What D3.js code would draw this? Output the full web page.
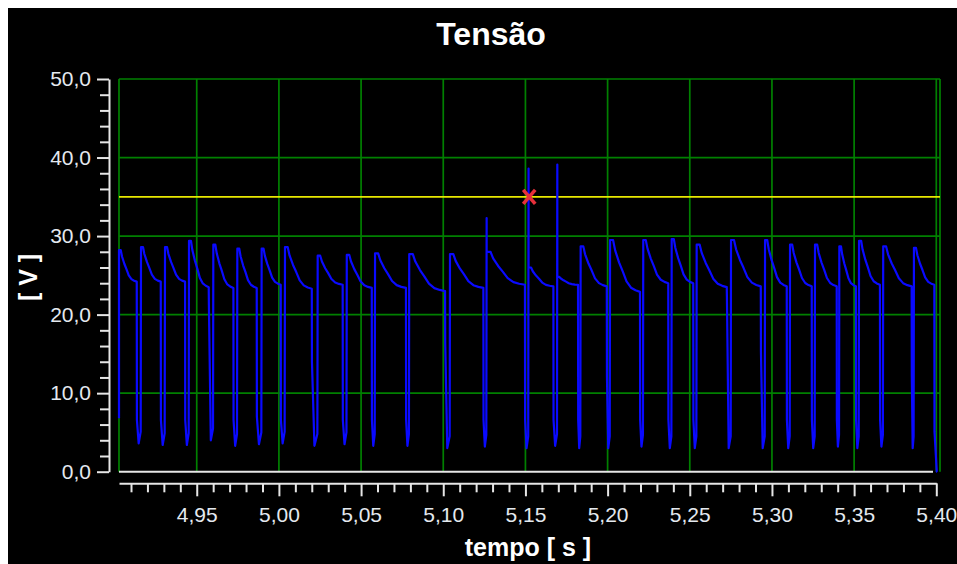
<!DOCTYPE html>
<html>
<head>
<meta charset="utf-8">
<script src="https://cdn.jsdelivr.net/npm/d3@7"></script>
<style>
  html, body { margin: 0; padding: 0; background: #fff; }
  svg { display: block; }
</style>
</head>
<body>
<div id="vis"></div>
<script>
// one entry per pulse
const riseTimes = [4.9027, 4.9161, 4.9307, 4.9453, 4.9601, 4.9747, 4.9895, 5.0037,
  5.0236, 5.0413, 5.0585, 5.0793, 5.1041, 5.1264, 5.1519, 5.1694, 5.1836, 5.2015,
  5.2217, 5.2390, 5.2542, 5.2751, 5.2958, 5.3110, 5.3262, 5.3410, 5.3530, 5.3677, 5.3864];
const peakVolts = [28.2, 28.6, 28.6, 29.4, 28.9, 28.4, 28.4, 28.6,
  27.5, 27.6, 27.8, 27.7, 27.7, 28.0, 26.0, 24.8, 28.7, 29.5,
  29.5, 29.6, 28.9, 29.5, 29.5, 28.9, 28.9, 28.7, 29.4, 28.7, 28.5];
const spikeVolts = [null, null, null, null, null, null, null, null,
  null, null, null, null, null, 32.3, 38.6, 39.1, null, null,
  null, null, null, null, null, null, null, null, null, null, null];
const dropTimes = [4.9135, 4.9281, 4.9429, 4.9573, 4.9723, 4.9865, 5.0011, 5.0200,
  5.0388, 5.0565, 5.0773, 5.1011, 5.1244, 5.1497, 5.1670, 5.1820, 5.1995, 5.2197,
  5.2369, 5.2521, 5.2725, 5.2932, 5.3090, 5.3242, 5.3394, 5.3511, 5.3657, 5.3850, 5.3988];
const plateauVolts = [24.2, 24.2, 24.2, 23.5, 23.4, 23.4, 23.8, 23.3,
  23.8, 23.4, 23.4, 23.0, 23.4, 23.8, 23.6, 23.8, 23.6, 22.9,
  24.0, 24.0, 23.5, 23.6, 23.6, 23.6, 23.6, 23.6, 23.8, 23.6, 23.8];
const kneeVolts = [6.6, 6.6, 6.6, 21.2, 6.6, 7.0, 6.6, 14.0,
  6.6, 6.6, 6.6, 16.4, 6.6, 6.6, 6.6, 6.6, 12.1, 6.6,
  6.6, 6.6, 22.3, 15.3, 6.6, 6.6, 6.6, 6.6, 6.6, 12.1, 5.1];
const troughVolts = [3.6, 3.4, 3.4, 4.0, 3.3, 3.5, 3.6, 3.3,
  3.5, 3.3, 3.3, 3.0, 3.2, 3.0, 3.3, 3.0, 3.0, 3.2,
  3.0, 3.0, 3.0, 3.0, 3.0, 3.0, 3.2, 3.0, 3.2, 3.0];
// fall from peak to plateau: [share of pulse length, share of height]
const decayShape = [[0, 1], [0.1, 1], [0.17, 0.8], [0.3, 0.57], [0.42, 0.4],
  [0.55, 0.2], [0.7, 0.08], [0.85, 0.03], [1, 0]];
const startVolt = 6.8;
const endVolt = 0;
const endTime = 5.4005;

const limitVolt = 35.0;
const markTime = 5.1523;
const markVolt = 35.0;

const timeDomain = [4.9027, 5.40];
const voltDomain = [0, 50];
const xTicks = d3.range(491, 541).map(d => d / 100);
const yTicks = d3.range(0, 51, 2);

const title = 'Tensão';
const xTitle = 'tempo [ s ]';
const yTitle = '[ V ]';


const width = 957;
const height = 564;
const plot = {left: 119, right: 936.3, top: 79, bottom: 471.7, border: 940};

const ptBR = d3.formatLocale({decimal: ',', thousands: '.', grouping: [3], currency: ['R$', '']});
const fmtY = ptBR.format('.1f');
const fmtX = ptBR.format('.2f');

const x = d3.scaleLinear()
    .domain(timeDomain)
    .range([plot.left, plot.right]);

const y = d3.scaleLinear()
    .domain(voltDomain)
    .range([plot.bottom, plot.top]);

const svg = d3.select('#vis').append('svg')
    .attr('width', width)
    .attr('height', height);

svg.append('rect')
    .attr('x', 8)
    .attr('y', 8)
    .attr('width', width - 8)
    .attr('height', height - 8)
    .attr('fill', '#000');

const font = "'Liberation Sans', Arial, sans-serif";
const labelColor = '#e4e9ef';

// grid
const grid = svg.append('g')
    .attr('stroke', '#008000')
    .attr('stroke-width', 1.7);

grid.selectAll('.vgrid')
  .data(xTicks.filter(isMajorX).concat([timeDomain[0]]))
  .join('line')
    .attr('class', 'vgrid')
    .attr('x1', d => x(d))
    .attr('x2', d => x(d))
    .attr('y1', y(voltDomain[1]))
    .attr('y2', y(0));

grid.selectAll('.hgrid')
  .data(yTicks.filter(d => d % 10 === 0 && d > 0))
  .join('line')
    .attr('class', 'hgrid')
    .attr('x1', plot.left)
    .attr('x2', plot.border)
    .attr('y1', d => y(d))
    .attr('y2', d => y(d));

grid.append('line')
    .attr('x1', plot.border)
    .attr('x2', plot.border)
    .attr('y1', y(voltDomain[1]))
    .attr('y2', y(0));

// limit line
svg.append('line')
    .attr('x1', plot.left)
    .attr('x2', plot.border)
    .attr('y1', y(limitVolt))
    .attr('y2', y(limitVolt))
    .attr('stroke', '#e8e800')
    .attr('stroke-width', 1.7);

// trace
const points = [[timeDomain[0], startVolt]];
riseTimes.forEach((tr, i) => {
  const td = dropTimes[i];
  if (spikeVolts[i] !== null) points.push([tr, spikeVolts[i]]);
  decayShape.forEach(([f, s]) => {
    points.push([tr + f * (td - tr), plateauVolts[i] + s * (peakVolts[i] - plateauVolts[i])]);
  });
  points.push([td + 0.0001, kneeVolts[i]]);
  if (i < riseTimes.length - 1) {
    const next = riseTimes[i + 1];
    points.push([td + 0.45 * (next - td), troughVolts[i]]);
    points.push([next - 0.0002, troughVolts[i] + 1.5]);
  }
});
points.push([endTime - 0.0002, endVolt]);
points.push([endTime, endVolt]);

const line = d3.line()
    .x(d => x(d[0]))
    .y(d => y(d[1]));

svg.append('path')
    .datum(points)
    .attr('d', line)
    .attr('fill', 'none')
    .attr('stroke', '#0a0aff')
    .attr('stroke-width', 2.2)
    .attr('stroke-linejoin', 'round');

// baseline of the plot
svg.append('line')
    .attr('x1', plot.left)
    .attr('x2', x(5.398))
    .attr('y1', y(0))
    .attr('y2', y(0))
    .attr('stroke', '#e6e6e6')
    .attr('stroke-width', 2);

// marker
const mark = svg.append('g')
    .attr('stroke', '#e8303a')
    .attr('stroke-width', 3.5);

[[-1, -1, 1, 1], [-1, 1, 1, -1]].forEach(([a, b, c, d]) => {
  mark.append('line')
      .attr('x1', x(markTime) + a * 6)
      .attr('y1', y(markVolt) + b * 7)
      .attr('x2', x(markTime) + c * 6)
      .attr('y2', y(markVolt) + d * 7);
});

// axes
const yAxis = d3.axisLeft(y)
    .tickValues(yTicks)
    .tickSizeInner(12)
    .tickSizeOuter(0)
    .tickPadding(6)
    .tickFormat(d => d % 10 === 0 ? fmtY(d) : '');

svg.append('g')
    .attr('transform', 'translate(109,0)')
    .call(yAxis)
    .call(g => styleAxis(g))
    .call(g => g.selectAll('.tick line')
        .attr('x2', d => d % 10 === 0 ? -12 : -9));

const xAxis = d3.axisBottom(x)
    .tickValues(xTicks)
    .tickSizeInner(13)
    .tickSizeOuter(0)
    .tickPadding(11)
    .tickFormat(d => isMajorX(d) ? fmtX(d) : '');

svg.append('g')
    .attr('transform', 'translate(0,483.3)')
    .call(xAxis)
    .call(g => styleAxis(g))
    .call(g => g.selectAll('.tick line')
        .attr('y2', d => isMajorX(d) ? 13 : 9));

// titles
svg.append('text')
    .attr('x', 491)
    .attr('y', 45)
    .attr('text-anchor', 'middle')
    .attr('fill', '#fff')
    .attr('font-family', font)
    .attr('font-weight', 'bold')
    .attr('font-size', 32)
    .text(title);

svg.append('text')
    .attr('x', 528)
    .attr('y', 556)
    .attr('text-anchor', 'middle')
    .attr('fill', '#fff')
    .attr('font-family', font)
    .attr('font-weight', 'bold')
    .attr('font-size', 25)
    .text(xTitle);

svg.append('text')
    .attr('transform', 'translate(37,277.5) rotate(-90)')
    .attr('text-anchor', 'middle')
    .attr('fill', '#fff')
    .attr('font-family', font)
    .attr('font-weight', 'bold')
    .attr('font-size', 25)
    .text(yTitle);


function isMajorX(d) {
  return Math.round(d * 100) % 5 === 0;
}


function styleAxis(g) {
  g.select('.domain')
      .attr('stroke', '#e6e6e6')
      .attr('stroke-width', 2);
  g.selectAll('.tick line')
      .attr('stroke', '#e6e6e6')
      .attr('stroke-width', 2);
  g.selectAll('.tick text')
      .attr('fill', labelColor)
      .attr('font-family', font)
      .attr('font-size', 21);
}
</script>
</body>
</html>
